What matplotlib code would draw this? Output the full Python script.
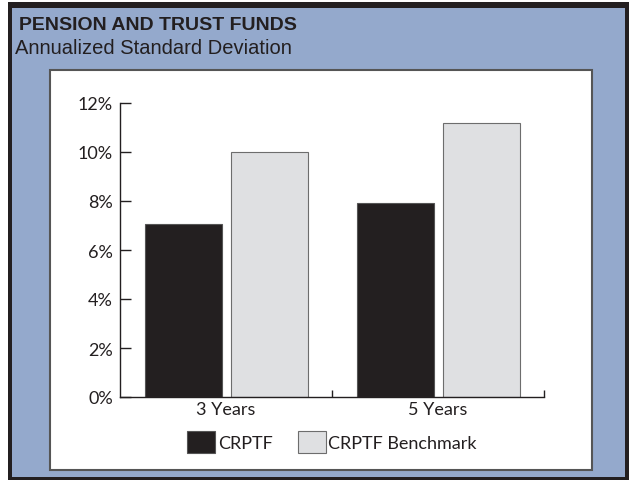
import matplotlib.pyplot as plt
from matplotlib.patches import Rectangle

periods = ['3 Years', '5 Years']
crptf = [7.07, 7.93]
benchmark = [10.0, 11.2]
yticks = [0, 2, 4, 6, 8, 10, 12]
series_names = ['CRPTF', 'CRPTF Benchmark']

W, H = 629, 481
fig = plt.figure(figsize=(W / 100, H / 100), dpi=100, facecolor='white')


def px_rect(x0, y0, x1, y1, **kw):
    # pixel box (top-left origin) -> figure rectangle, kept behind the axes
    fig.patches.append(Rectangle((x0 / W, 1 - y1 / H), (x1 - x0) / W, (y1 - y0) / H,
                                 transform=fig.transFigure, figure=fig, zorder=-5, **kw))


px_rect(8, 3, 629, 481, facecolor='#231f20', edgecolor='none')
px_rect(12, 9, 625, 478, facecolor='#94a9cc', edgecolor='none')
px_rect(50, 71, 592, 471, facecolor='white', edgecolor='#555555', linewidth=1.5)

fig.text(19 / W, 1 - 25 / H, 'PENSION AND TRUST FUNDS', fontsize=14, fontweight='bold',
         family=['Liberation Sans Narrow', 'Liberation Sans'], va='center', color='#231f20')
fig.text(15 / W, 1 - 49 / H, 'Annualized Standard Deviation', fontsize=14.5,
         family=['Liberation Sans', 'DejaVu Sans'], va='center', color='#231f20')

ax = fig.add_axes([120 / W, 1 - 398 / H, (544 - 120) / W, (398 - 104) / H])
ax.set_facecolor('none')

x = list(range(len(periods)))
w = 0.363
ax.bar([i - 0.2 for i in x], crptf, w, color='#231f20', edgecolor='#555555', linewidth=0.8,
       label=series_names[0], zorder=2)
ax.bar([i + 0.203 for i in x], benchmark, w, color='#dfe0e2', edgecolor='#6d6d6d', linewidth=0.8,
       label=series_names[1], zorder=2)

ax.set_xlim(-0.5, 1.5)
ax.set_ylim(0, 12)
ax.set_yticks(yticks)
ax.set_yticklabels([f'{v}%' for v in yticks])
ax.set_xticks([0.5, 1.5])
ax.set_xticklabels(['', ''])
ax.set_xticks(x, minor=True)
ax.set_xticklabels(periods, minor=True)
ax.tick_params(axis='x', which='minor', length=0, pad=3)
ax.tick_params(axis='x', which='major', direction='in', length=5, width=1, color='#231f20')
ax.tick_params(axis='y', direction='in', length=8, width=1, color='#231f20', pad=5)
for lab in ax.get_yticklabels() + ax.get_xticklabels(minor=True):
    lab.set_family(['Lato', 'DejaVu Sans'])
    lab.set_fontsize(13)
    lab.set_color('#231f20')

for s in ['top', 'right']:
    ax.spines[s].set_visible(False)
for s in ['left', 'bottom']:
    ax.spines[s].set_color('#231f20')
    ax.spines[s].set_linewidth(1)

leg = ax.legend(loc='center', bbox_to_anchor=(332 / W, 1 - 443 / H), bbox_transform=fig.transFigure,
                ncol=2, frameon=False, handlelength=1.55, handleheight=1.55, handletextpad=0.15,
                columnspacing=1.4, prop={'family': ['Lato', 'DejaVu Sans'], 'size': 13})
for t in leg.get_texts():
    t.set_color('#231f20')

fig.savefig('out.png', dpi=100, facecolor=fig.get_facecolor())
